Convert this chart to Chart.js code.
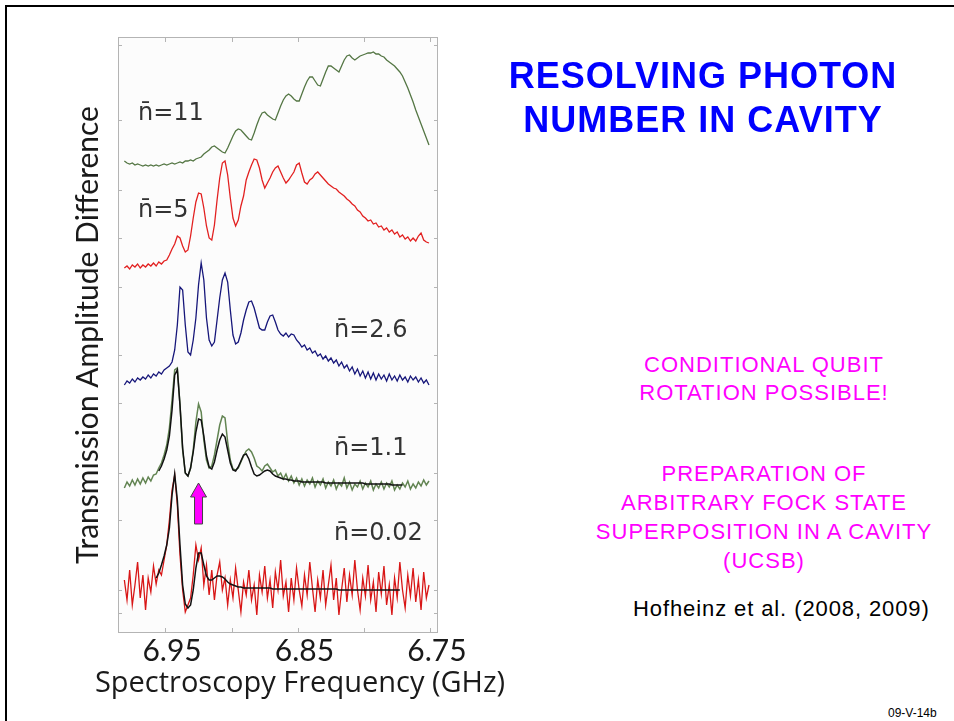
<!DOCTYPE html>
<html>
<head>
<meta charset="utf-8">
<script src="https://cdn.jsdelivr.net/npm/chart.js@4.4.1/dist/chart.umd.min.js"></script>
<style>
  body { margin: 0; width: 954px; height: 721px; overflow: hidden; background: #fff; position: relative; font-family: "Liberation Sans", Arial, sans-serif; }
  #frame { position: absolute; left: 5px; top: 5px; width: 980px; height: 740px; border-top: 2px solid #000; border-left: 2px solid #000; }
  #plot { position: absolute; left: 0; top: 0; }
  .txt { position: absolute; white-space: nowrap; }
  #title { left: 480px; width: 446px; top: 54px; text-align: center; color: #0000ff; font-weight: bold; font-size: 36px; line-height: 44px; letter-spacing: 1px; }
  .pink { left: 564px; width: 400px; text-align: center; color: #ff00ff; font-size: 22px; letter-spacing: 1px; }
  #note1 { top: 351px; line-height: 28px; }
  #note2 { top: 459px; line-height: 29px; }
  #cite { left: 633px; top: 596px; font-size: 22px; line-height: 26px; letter-spacing: 0.9px; color: #000; }
  #slide { left: 888px; top: 706px; font-size: 12px; color: #000; }
  #xtitle { left: 50px; width: 500px; top: 664px; text-align: center; font-family: "Open Sans", sans-serif; font-size: 29px; line-height: 34px; color: #1a1a1a; }
</style>
</head>
<body>
<div id="frame"></div>
<canvas id="plot" width="520" height="721"></canvas>
<div id="xtitle" class="txt">Spectroscopy Frequency (GHz)</div>
<div id="title" class="txt">RESOLVING PHOTON<br>NUMBER IN CAVITY</div>
<div id="note1" class="txt pink">CONDITIONAL QUBIT<br>ROTATION POSSIBLE!</div>
<div id="note2" class="txt pink">PREPARATION OF<br>ARBITRARY FOCK STATE<br>SUPERPOSITION IN A CAVITY<br>(UCSB)</div>
<div id="cite" class="txt">Hofheinz et al. (2008, 2009)</div>
<div id="slide" class="txt">09-V-14b</div>
<script>
// spectroscopy frequency grid (GHz)
const freqGHz = [
  6.986, 6.984, 6.982, 6.980, 6.978, 6.976, 6.974, 6.972, 6.970, 6.968,
  6.966, 6.964, 6.962, 6.960, 6.958, 6.956, 6.954, 6.952, 6.950, 6.948,
  6.946, 6.944, 6.942, 6.940, 6.938, 6.936, 6.934, 6.932, 6.930, 6.928,
  6.926, 6.924, 6.922, 6.920, 6.918, 6.916, 6.914, 6.912, 6.910, 6.908,
  6.906, 6.904, 6.902, 6.900, 6.898, 6.896, 6.894, 6.892, 6.890, 6.888,
  6.886, 6.884, 6.882, 6.880, 6.878, 6.876, 6.874, 6.872, 6.870, 6.868,
  6.866, 6.864, 6.862, 6.860, 6.858, 6.856, 6.854, 6.852, 6.850, 6.848,
  6.846, 6.844, 6.842, 6.840, 6.838, 6.836, 6.834, 6.832, 6.830, 6.828,
  6.826, 6.824, 6.822, 6.820, 6.818, 6.816, 6.814, 6.812, 6.810, 6.808,
  6.806, 6.804, 6.802, 6.800, 6.798, 6.796, 6.794, 6.792, 6.790, 6.788,
  6.786, 6.784, 6.782, 6.780, 6.778, 6.776, 6.774, 6.772, 6.770, 6.768,
  6.766, 6.764, 6.762, 6.760, 6.758, 6.756, 6.754
];

// transmission amplitude difference (arb. units, traces offset)
const n11 = [
  472, 470, 469, 470, 468, 469, 468, 467, 468, 467,
  468, 467, 468, 467, 468, 469, 468, 469, 470, 469,
  470, 471, 470, 472, 472, 473, 472, 474, 475, 476,
  479, 481, 483, 486, 487, 485, 483, 481, 480, 485,
  491, 497, 502, 504, 503, 500, 497, 494, 493, 500,
  508, 515, 520, 521, 518, 516, 514, 513, 520, 527,
  533, 537, 539, 537, 534, 532, 532, 539, 546, 552,
  556, 556, 552, 548, 547, 554, 561, 567, 567, 565,
  563, 561, 567, 573, 577, 578, 575, 573, 575, 577,
  578, 579, 580, 580, 581, 579, 579, 577, 576, 573,
  571, 569, 567, 564, 561, 557, 551, 545, 538, 531,
  523, 516, 509, 502, 495, 488, null
];
const n5 = [
  365, 367, 364, 368, 366, 369, 365, 368, 366, 369,
  367, 370, 367, 371, 369, 372, 373, 378, 384, 389,
  397, 395, 387, 381, 383, 397, 415, 431, 440, 439,
  425, 407, 395, 393, 408, 433, 455, 470, 472, 458,
  435, 415, 407, 413, 427, 437, 453, 461, 468, 474,
  473, 465, 453, 445, 450, 455, 461, 465, 467, 461,
  455, 450, 453, 457, 461, 468, 470, 460, 451, 449,
  453, 455, 459, 461, 458, 455, 452, 449, 447, 445,
  444, 441, 439, 437, 434, 432, 429, 427, 423, 421,
  417, 415, 412, 413, 409, 410, 406, 407, 403, 405,
  401, 403, 399, 401, 396, 398, 394, 396, 392, 395,
  392, 397, 400, 393, 391, 390, null
];
const n26 = [
  248, 252, 250, 254, 251, 255, 253, 256, 254, 258,
  255, 259, 257, 261, 259, 263, 265, 267, 271, 283,
  308, 346, 343, 308, 281, 278, 293, 315, 348, 370,
  353, 315, 293, 287, 291, 313, 335, 353, 360, 351,
  323, 298, 289, 291, 300, 313, 323, 331, 332, 325,
  315, 305, 303, 303, 311, 317, 318, 311, 303, 299,
  297, 300, 296, 299, 298, 293, 290, 286, 288, 283,
  285, 280, 282, 277, 279, 274, 277, 272, 275, 270,
  273, 267, 271, 265, 268, 262, 266, 259, 264, 257,
  262, 255, 261, 254, 260, 253, 259, 254, 258, 252,
  259, 253, 257, 252, 258, 253, 256, 251, 257, 253,
  256, 251, 255, 250, 253, 248, null
];
const n11data = [
  145, 151, 147, 153, 148, 154, 149, 155, 150, 156,
  152, 158, 159, 165, 170, 178, 188, 205, 233, 263,
  265, 228, 183, 160, 157, 165, 183, 211, 229, 221,
  193, 173, 165, 167, 178, 193, 208, 217, 215, 191,
  173, 164, 163, 165, 171, 177, 182, 184, 181, 175,
  167, 165, 162, 167, 169, 165, 161, 163, 157, 160,
  154, 159, 152, 157, 150, 155, 148, 154, 147, 153,
  149, 155, 146, 152, 148, 154, 145, 151, 147, 153,
  144, 150, 147, 155, 145, 151, 143, 149, 146, 152,
  144, 150, 146, 152, 143, 149, 145, 151, 144, 150,
  146, 152, 143, 148, 144, 150, 146, 152, 144, 149,
  145, 151, 147, 153, 148, 152, null
];
const n11fit = [
  null, null, null, null, null, null, null, null, null, null,
  null, null, null, 162, 167, 174, 183, 197, 223, 258,
  263, 228, 185, 160, 157, 165, 181, 201, 214, 213,
  197, 177, 166, 164, 171, 183, 193, 199, 196, 183,
  170, 163, 162, 166, 172, 178, 179, 174, 166, 159,
  157, 158, 160, 162, 163, 162, 159, 157, 156, 155,
  154, 154, 153, 153, 152, 152, 152, 151, 151, 151,
  151, 151, 151, 151, 151, 151, 150, 150, 150, 150,
  150, 150, 150, 150, 150, 150, 150, 150, 150, 150,
  150, 149, 149, 149, 149, 149, 149, 149, 149, 149,
  149, 148, 148, 148, 148, 148, null, null, null, null,
  null, null, null, null, null, null, null
];
const n002 = [
  53, 33, 63, 28, 48, 71, 35, 58, 23, 55,
  41, 67, 49, 63, 58, 73, 88, 113, 143, 158,
  128, 78, 43, 21, 28, 35, 58, 88, 73, 85,
  48, 68, 38, 63, 33, 58, 71, 43, 55, 28,
  53, 35, 65, 43, 21, 51, 38, 63, 33, 48,
  18, 58, 41, 67, 35, 53, 25, 61, 43, 73,
  37, 51, 21, 55, 33, 65, 43, 27, 58, 38,
  71, 45, 21, 53, 35, 63, 28, 48, 68, 33,
  55, 18, 43, 65, 31, 58, 38, 73, 43, 23,
  55, 37, 68, 33, 51, 21, 61, 39, 67, 28,
  48, 18, 55, 35, 71, 43, 25, 58, 37, 65,
  31, 53, 23, 61, 35, 48, null
];
const n002fit = [
  null, null, null, null, null, null, null, null, null, null,
  null, null, 55, 60, 68, 77, 88, 105, 138, 159,
  133, 88, 48, 29, 25, 28, 43, 65, 80, 80,
  68, 57, 53, 53, 55, 57, 57, 56, 54, 51,
  49, 48, 47, 46, 46, 45, 45, 45, 45, 45,
  45, 45, 45, 45, 45, 45, 44, 44, 44, 44,
  44, 44, 44, 44, 44, 44, 44, 44, 44, 44,
  44, 44, 44, 44, 44, 44, 44, 44, 44, 44,
  44, 43, 43, 43, 43, 43, 43, 43, 43, 43,
  43, 43, 43, 43, 43, 43, 43, 43, 43, 43,
  43, 43, 43, 43, 43, null, null, null, null, null,
  null, null, null, null, null, null, null
];

const curveNames = ['n\u0304=11', 'n\u0304=5', 'n\u0304=2.6', 'n\u0304=1.1', 'n\u0304=0.02'];
const xTickLabels = [6.95, 6.85, 6.75];
const xTickMarks = [6.955, 6.905, 6.855, 6.805, 6.755];
const yTickMarks = [20, 43, 113, 160, 230, 278, 346, 395, 443, 513, 588];

// where the n-bar labels and the arrow sit, in data units
const labelAnchors = [
  { f: 6.9757, a: 519 }, { f: 6.9757, a: 422 }, { f: 6.8277, a: 302 },
  { f: 6.8277, a: 184 }, { f: 6.8277, a: 99 }
];
const arrowAnchor = { f: 6.9300, tip: 150, head: 136, base: 109 };

const pts = vals => vals.map((v, i) => ({ x: freqGHz[i], y: v }));

const decor = {
  id: 'decor',
  beforeDatasetsDraw(chart) {
    const { ctx, chartArea: a } = chart;
    ctx.save();
    ctx.fillStyle = '#fcfcfc';
    ctx.fillRect(a.left, a.top, a.right - a.left, a.bottom - a.top);
    ctx.restore();
  },
  afterDatasetsDraw(chart) {
    const { ctx, chartArea: a, scales: { x, y } } = chart;
    ctx.save();
    ctx.strokeStyle = '#b4b4b4';
    ctx.lineWidth = 1;
    ctx.strokeRect(a.left + 0.5, a.top + 0.5, a.right - a.left - 1, a.bottom - a.top - 1);
    ctx.beginPath();
    xTickMarks.forEach(v => {
      const px = Math.round(x.getPixelForValue(v)) + 0.5;
      ctx.moveTo(px, a.bottom); ctx.lineTo(px, a.bottom - 5);
      ctx.moveTo(px, a.top); ctx.lineTo(px, a.top + 5);
    });
    yTickMarks.forEach(v => {
      const py = Math.round(y.getPixelForValue(v)) + 0.5;
      ctx.moveTo(a.left, py); ctx.lineTo(a.left + 4, py);
      ctx.moveTo(a.right, py); ctx.lineTo(a.right - 4, py);
    });
    ctx.stroke();

    ctx.fillStyle = '#333';
    ctx.font = '24px "DejaVu Sans"';
    ctx.textAlign = 'left';
    ctx.textBaseline = 'middle';
    curveNames.forEach((t, i) => {
      ctx.fillText(t, x.getPixelForValue(labelAnchors[i].f), y.getPixelForValue(labelAnchors[i].a));
    });

    // magenta arrow
    const cx = x.getPixelForValue(arrowAnchor.f);
    const tip = y.getPixelForValue(arrowAnchor.tip);
    const head = y.getPixelForValue(arrowAnchor.head);
    const base = y.getPixelForValue(arrowAnchor.base);
    ctx.beginPath();
    ctx.moveTo(cx, tip);
    ctx.lineTo(cx + 8, head);
    ctx.lineTo(cx + 4, head);
    ctx.lineTo(cx + 4, base);
    ctx.lineTo(cx - 4, base);
    ctx.lineTo(cx - 4, head);
    ctx.lineTo(cx - 8, head);
    ctx.closePath();
    ctx.fillStyle = '#ff00ff';
    ctx.fill();
    ctx.strokeStyle = '#444';
    ctx.lineWidth = 1;
    ctx.stroke();
    ctx.restore();
  }
};

const line = (vals, color, w) => ({
  data: pts(vals), borderColor: color, borderWidth: w, pointRadius: 0, tension: 0, spanGaps: false
});

new Chart(document.getElementById('plot'), {
  type: 'line',
  data: {
    datasets: [
      line(n11fit, '#111111', 1.5),
      line(n002fit, '#111111', 1.5),
      line(n11, 'rgb(84,118,68)', 1.3),
      line(n5, 'rgb(226,32,32)', 1.3),
      line(n26, 'rgb(22,22,122)', 1.3),
      line(n11data, 'rgb(98,132,82)', 1.5),
      line(n002, 'rgb(216,22,22)', 1.3)
    ]
  },
  options: {
    responsive: false,
    animation: false,
    events: [],
    layout: { padding: { left: 60, top: 37, right: 82, bottom: 0 } },
    plugins: { legend: { display: false }, tooltip: { enabled: false } },
    scales: {
      x: {
        type: 'linear',
        reverse: true,
        min: 6.7492,
        max: 6.9908,
        grid: { display: false, drawTicks: false },
        border: { display: false },
        afterBuildTicks: s => { s.ticks = xTickLabels.map(v => ({ value: v })); },
        afterFit: s => { s.height = 88; },
        ticks: {
          autoSkip: false,
          maxRotation: 0,
          padding: 0,
          color: '#1a1a1a',
          font: { family: 'Lato', size: 30 },
          callback: v => v.toFixed(2)
        }
      },
      y: {
        min: 0,
        max: 596,
        grid: { display: false, drawTicks: false },
        border: { display: false },
        ticks: { display: false },
        afterFit: s => { s.width = 58; },
        title: {
          display: true,
          text: 'Transmission Amplitude Difference',
          color: '#1a1a1a',
          font: { family: 'Lato', size: 30 },
          padding: { top: 10, bottom: 0 }
        }
      }
    }
  },
  plugins: [decor]
});
</script>
</body>
</html>
